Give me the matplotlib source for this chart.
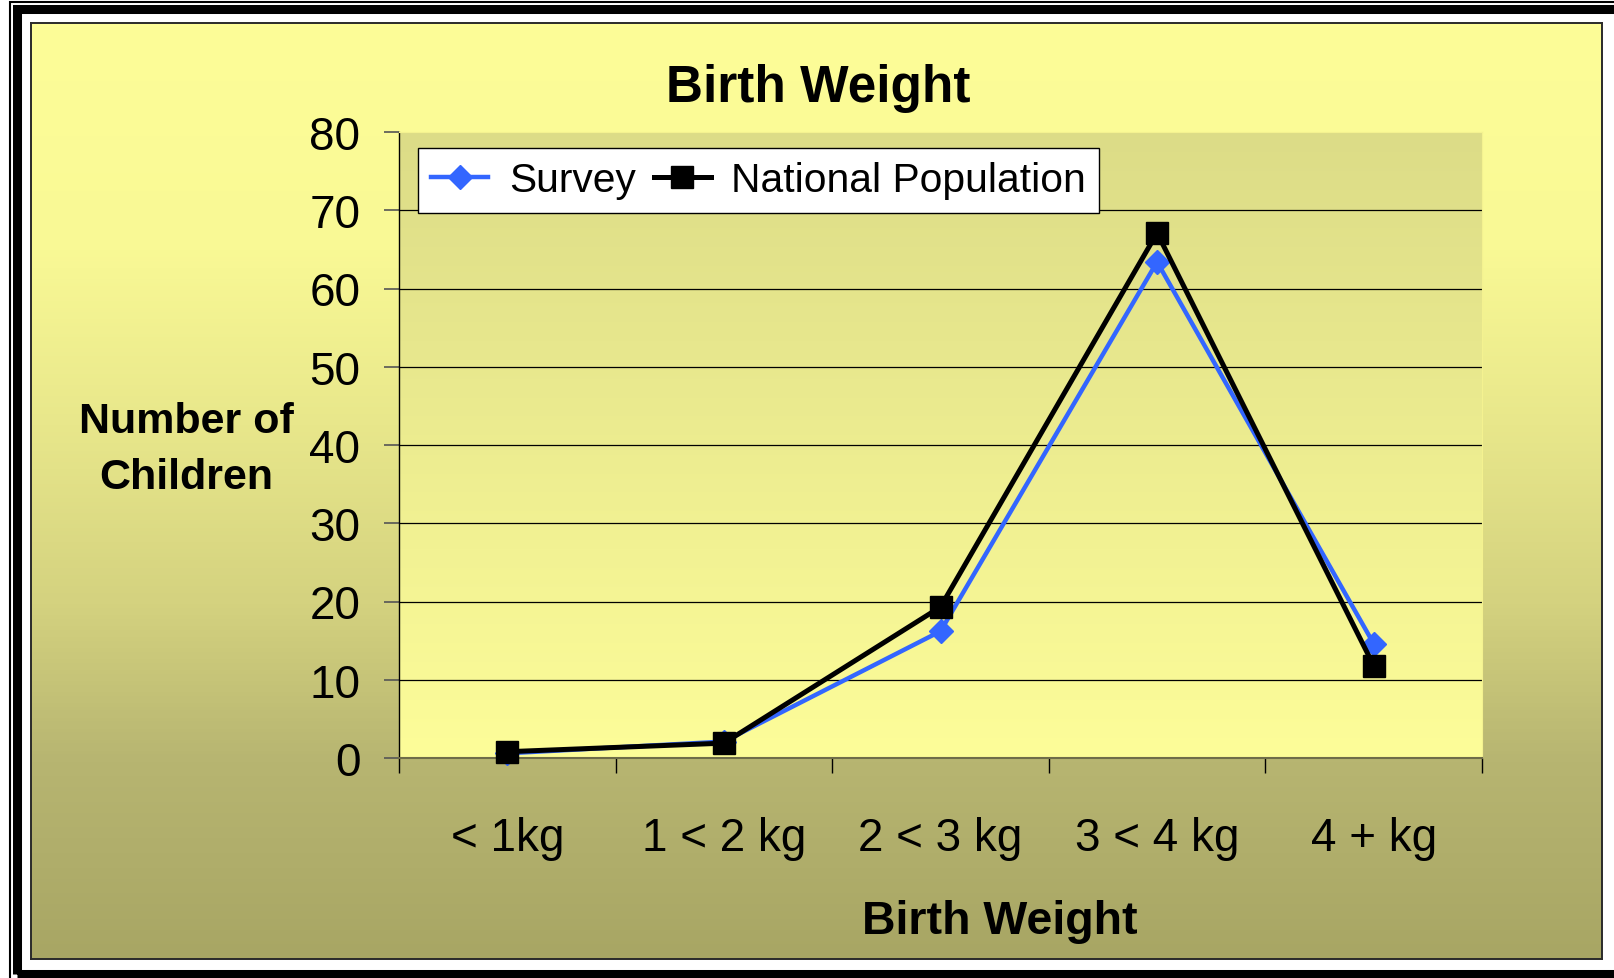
import numpy as np
import matplotlib
matplotlib.use("Agg")
import matplotlib.pyplot as plt
from matplotlib.patches import Rectangle
from matplotlib.colors import LinearSegmentedColormap

# Chart data
categories = ["< 1kg", "1 < 2 kg", "2 < 3 kg", "3 < 4 kg", "4 + kg"]
survey = [0.6, 2.1, 16.2, 63.4, 14.6]
national = [0.8, 1.9, 19.3, 67.1, 11.8]
y_ticks = [0, 10, 20, 30, 40, 50, 60, 70, 80]

W, H = 1614, 979
plt.rcParams["font.family"] = ["Liberation Sans", "DejaVu Sans"]


def fx(px):
    return px / W


def fy(px):
    return 1 - px / H


def main():
    fig = plt.figure(figsize=(W / 100, H / 100), dpi=100)
    fig.patch.set_facecolor("white")

    # Double black frame around the picture
    fig.add_artist(Rectangle((fx(10), fy(990)), fx(1640) - fx(10), fy(3) - fy(990),
                             transform=fig.transFigure, fill=False,
                             edgecolor="black", linewidth=1.5))
    fig.add_artist(Rectangle((fx(16.5), fy(975)), fx(1640) - fx(16.5), fy(9.5) - fy(975),
                             transform=fig.transFigure, fill=False,
                             edgecolor="black", linewidth=6.5))

    # Chart panel with a light-yellow to olive gradient
    panel = fig.add_axes([fx(31), fy(960), fx(1602) - fx(31), fy(24) - fy(960)])
    panel_cmap = LinearSegmentedColormap.from_list(
        "panel",
        [(0.0, "#fdfd98"), (0.24, "#f9f995"), (0.43, "#e8e78b"),
         (0.62, "#d4d27f"), (0.79, "#b7b571"), (1.0, "#a8a664")])
    grad = np.linspace(0, 1, 256).reshape(-1, 1)
    panel.imshow(grad, cmap=panel_cmap, aspect="auto", extent=[0, 1, 0, 1], origin="upper")
    panel.set_xlim(0, 1)
    panel.set_ylim(0, 1)
    panel.set_xticks([])
    panel.set_yticks([])
    for s in panel.spines.values():
        s.set_color("#2a2a2a")
        s.set_linewidth(1.4)

    # Plot area
    ax = fig.add_axes([fx(399), fy(759), fx(1482) - fx(399), fy(133) - fy(759)])
    ax.set_facecolor("none")
    plot_cmap = LinearSegmentedColormap.from_list("plot", ["#dcdc87", "#fdfd99"])
    ax.imshow(grad, cmap=plot_cmap, aspect="auto",
              extent=[-0.5, len(categories) - 0.5, y_ticks[0], y_ticks[-1]],
              origin="upper", zorder=0)

    x = np.arange(len(categories))
    ax.plot(x, survey, color="#3366ff", linewidth=3.2, marker="D", markersize=12.5,
            label="Survey", zorder=3, clip_on=False)
    ax.plot(x, national, color="black", linewidth=3.6, marker="s", markersize=15.5,
            label="National Population", zorder=4, clip_on=False)

    ax.set_xlim(-0.5, len(categories) - 0.5)
    ax.set_ylim(y_ticks[0], y_ticks[-1])

    ax.set_yticks(y_ticks)
    ax.tick_params(axis="y", direction="out", length=10.8, width=1.2, color="#555555",
                   pad=17, labelsize=33)
    ax.set_xticks(x)
    ax.set_xticklabels(categories)
    ax.set_xticks(np.arange(len(categories) + 1) - 0.5, minor=True)
    ax.tick_params(axis="x", which="major", length=0, pad=42, labelsize=33)
    ax.tick_params(axis="x", which="minor", direction="out", length=10.8, width=1.0,
                   color="black")

    ax.yaxis.grid(True, color="black", linewidth=0.9)
    ax.get_ygridlines()[-1].set_visible(False)
    ax.get_ygridlines()[0].set_visible(False)

    ax.spines["left"].set_color("black")
    ax.spines["left"].set_linewidth(1.0)
    ax.spines["bottom"].set_color("#6e6c48")
    ax.spines["bottom"].set_linewidth(1.5)
    ax.spines["top"].set_color("#f4f290")
    ax.spines["right"].set_color("#f4f290")

    # Legend
    leg = ax.legend(loc="upper left", bbox_to_anchor=(fx(418), fy(149)),
                    bbox_transform=fig.transFigure, ncol=2, fontsize=29.3,
                    frameon=True, fancybox=False, borderaxespad=0,
                    handlelength=1.4, handletextpad=0.5, columnspacing=0.45,
                    borderpad=0.33, numpoints=1)
    leg.get_frame().set_edgecolor("black")
    leg.get_frame().set_linewidth(1.0)
    leg.get_frame().set_facecolor("white")
    leg.get_frame().set_alpha(1)

    # Titles
    fig.text(fx(818), fy(102), "Birth Weight", ha="center", va="baseline",
             fontsize=37, fontweight="bold")
    fig.text(fx(1000), fy(934), "Birth Weight", ha="center", va="baseline",
             fontsize=33.5, fontweight="bold")
    fig.text(fx(186), fy(489), "Number of\nChildren", ha="center", va="baseline",
             fontsize=31, fontweight="bold", linespacing=1.5, multialignment="center")

    fig.savefig("out.png", dpi=100)


if __name__ == "__main__":
    main()
